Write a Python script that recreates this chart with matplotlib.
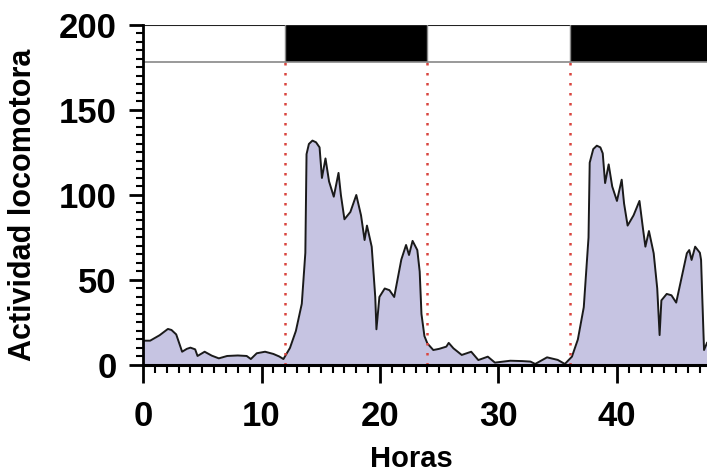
import numpy as np
import matplotlib
matplotlib.use("Agg")
import matplotlib.pyplot as plt
from matplotlib.ticker import MultipleLocator

# datos (horas, actividad)
horas = [0, 0.6, 1.4, 2.1, 2.4, 2.8, 3.3, 3.7, 4.0, 4.4, 4.6, 5.2, 5.8, 6.4, 7.1, 8.0, 8.75,
         9.1, 9.6, 10.3, 11.0, 11.5, 11.85, 12.4, 12.9, 13.4, 13.7, 13.8, 14.0, 14.3, 14.6,
         14.9, 15.1, 15.4, 15.7, 16.1, 16.5, 16.7, 17.0, 17.5, 18.0, 18.4, 18.7, 18.9, 19.3,
         19.6, 19.7, 19.95, 20.4, 20.8, 21.2, 21.8, 22.2, 22.45, 22.75, 23.15, 23.35, 23.5,
         23.75, 24.0, 24.5, 25.0, 25.6, 25.8, 26.2, 26.9, 27.7, 28.3, 29.1, 29.7, 31.0, 32.0,
         32.7, 33.1, 34.1, 35.0, 35.6, 36.2, 36.7, 37.2, 37.6, 37.7, 38.0, 38.3, 38.6, 38.8,
         39.0, 39.3, 39.6, 40.0, 40.4, 40.6, 40.9, 41.4, 41.9, 42.2, 42.4, 42.7, 43.1, 43.4,
         43.6, 43.75, 44.2, 44.6, 45.0, 45.9, 46.1, 46.3, 46.6, 47.0, 47.1, 47.2, 47.35, 47.6]
actividad = [14.3, 14.3, 17.5, 21.2, 20.6, 18.0, 7.8, 9.5, 10.2, 9.2, 5.3, 7.8, 5.5, 3.9, 5.3,
             5.6, 5.3, 3.5, 6.9, 7.8, 6.5, 5.0, 3.5, 10.0, 20.0, 36.0, 66.0, 124.0, 130.0,
             132.0, 131.0, 128.0, 110.0, 121.5, 108.0, 99.0, 113.0, 100.0, 85.7, 90.0, 100.0,
             88.0, 73.5, 82.0, 69.6, 40.0, 21.0, 40.0, 45.0, 44.0, 40.0, 62.0, 70.6, 64.7,
             73.0, 67.6, 55.0, 30.0, 17.0, 12.7, 8.8, 9.5, 10.8, 13.0, 9.8, 5.9, 7.8, 2.9, 4.9,
             1.4, 2.5, 2.3, 2.0, 0.6, 4.5, 3.0, 0.6, 4.9, 15.0, 34.0, 75.0, 119.0, 127.0,
             129.0, 128.0, 124.5, 107.0, 118.0, 105.0, 96.5, 109.0, 95.0, 82.0, 88.0, 96.5,
             80.0, 69.6, 78.8, 65.7, 45.0, 17.6, 38.0, 41.8, 41.0, 36.7, 65.7, 67.6, 61.8,
             69.6, 66.0, 61.8, 40.0, 8.8, 13.0]

fases = [0, 12, 24, 36, 48]
luz = ["white", "black", "white", "black"]
lineas_rojas = [12, 24, 36]

plt.rcParams['font.family'] = ['Liberation Sans', 'DejaVu Sans']

fig = plt.figure(figsize=(7.07, 4.75), dpi=100)
ax = fig.add_axes([0.2023, 0.2316, 0.7977, 0.7158])

ax.fill_between(horas, actividad, 0, color="#c6c4e2", linewidth=0)
ax.plot(horas, actividad, color="#1a1a1a", linewidth=1.4)

# barras de luz / oscuridad
for i in range(len(luz)):
    ax.fill_between([fases[i], fases[i + 1]], 178, 200, color=luz[i], linewidth=0)
ax.axhline(178, color="#888888", linewidth=1.2)
ax.axhline(200, color="#222222", linewidth=1.5)
for x in [12, 24, 36]:
    ax.plot([x, x], [178, 200], color="#888888", linewidth=1.0)

for x in lineas_rojas:
    ax.plot([x, x], [0, 178], color="#d9453f", linewidth=1.8, linestyle=(0, (1, 3)))

ax.set_xlim(0, 47.6)
ax.set_ylim(0, 200)
ax.spines['top'].set_visible(False)
ax.spines['right'].set_visible(False)
ax.spines['left'].set_linewidth(2.0)
ax.spines['bottom'].set_linewidth(2.2)

ax.xaxis.set_major_locator(MultipleLocator(10))
ax.xaxis.set_minor_locator(MultipleLocator(1))
ax.yaxis.set_major_locator(MultipleLocator(50))
ax.yaxis.set_minor_locator(MultipleLocator(5))
ax.tick_params(axis='x', which='major', length=13, width=2.0, pad=12, labelsize=25)
ax.tick_params(axis='x', which='minor', length=6, width=1.5)
ax.tick_params(axis='y', which='major', length=10, width=2.0, pad=9, labelsize=25)
ax.tick_params(axis='y', which='minor', length=5, width=1.5)
for t in ax.get_xticklabels() + ax.get_yticklabels():
    t.set_fontweight('bold')

ax.set_xlabel("Horas", fontsize=21, fontweight='bold')
ax.set_ylabel("Actividad locomotora", fontsize=22, fontweight='bold')
ax.xaxis.set_label_coords(0.475, -0.235)
ax.yaxis.set_label_coords(-0.186, 0.47)

fig.savefig("out.png", dpi=100)
